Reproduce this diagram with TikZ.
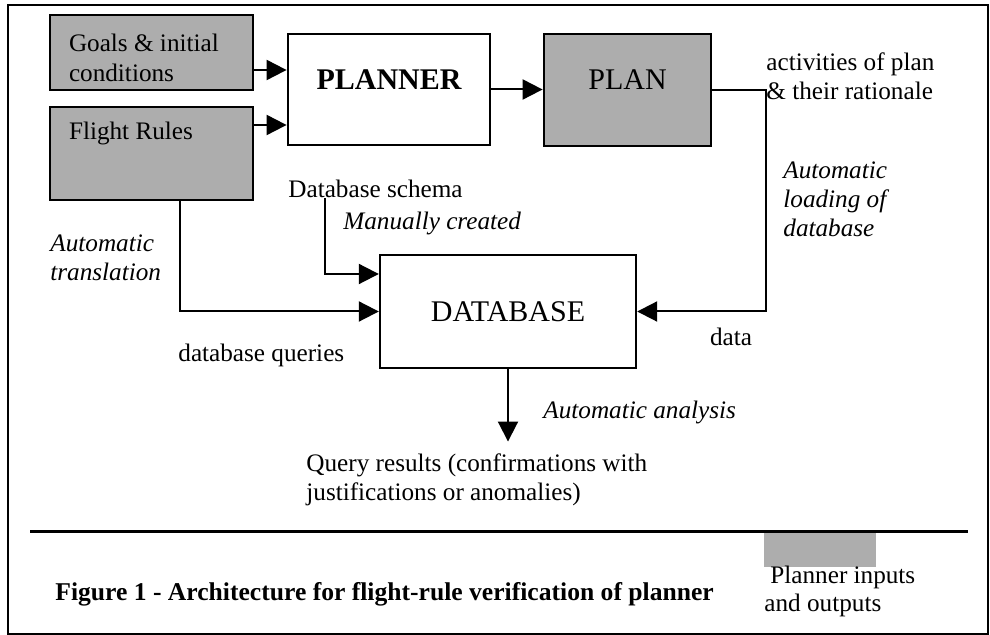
\documentclass[tikz,border=0pt]{standalone}
\usepackage{fontspec}
\setmainfont{Liberation Serif}
\usepackage{tikz}
\usetikzlibrary{arrows.meta, positioning, calc}
\definecolor{shade}{HTML}{ADADAD}

\begin{document}
\begin{tikzpicture}[
    x=0.5pt, y=-0.5pt,
    block/.style={draw, line width=1.4pt, fill=#1, inner sep=0pt},
    block/.default=white,
    txt/.style={font=\fontsize{12.6}{14.5}\selectfont, inner sep=0pt, align=left},
    itxt/.style={txt, font=\fontsize{12.6}{14.5}\selectfont\itshape},
    big/.style={font=\fontsize{15}{18}\selectfont, inner sep=0pt},
    conn/.style={->, line width=1pt},
    >={Triangle[length=10pt, width=10pt]},
]
    \useasboundingbox (0,0) rectangle (990,635);

    % Frame and rule
    \draw[line width=1pt] (8,5) rectangle (988,634);
    \draw[line width=1.5pt] (30,532) -- (968,532);

    % Planner inputs
    \node[block=shade, minimum width=101.5pt, minimum height=37.5pt] (goals) at (151.5,52.5) {};
    \node[txt, anchor=west, font=\fontsize{12.6}{15}\selectfont] (goalstext) at ($(goals.west)+(20,5)$) {Goals \& initial\\conditions};
    \node[block=shade, minimum width=101.5pt, minimum height=46.5pt] (rules) at (151.5,153.5) {};
    \node[txt, anchor=west] (rulestext) at ($(rules.north west)+(20,28)$) {Flight Rules};

    % Planner and its output
    \node[block, minimum width=101pt, minimum height=55.5pt] (planner) at (389,89.5) {};
    \node[big, font=\fontsize{15}{18}\selectfont\bfseries] (plannertext) at ($(planner.center)+(0,-9.5)$) {PLANNER};
    \node[block=shade, minimum width=83.5pt, minimum height=56pt] (plan) at (627.5,90) {};
    \node[big] (plantext) at ($(plan.center)+(0,-10)$) {PLAN};

    % Database
    \node[block, line width=1.2pt, minimum width=128pt, minimum height=56.5pt, big] (database) at (508,311.5) {DATABASE};

    % Labels
    \node[txt, anchor=west] (activities) at (766,76) {activities of plan\\\& their rationale};
    \node[itxt, anchor=west] (loading) at (783,199) {Automatic\\loading of\\database};
    \node[txt] (data) at (731,337) {data};
    \node[itxt, anchor=west] (translation) at (50,258) {Automatic\\translation};
    \node[txt, anchor=west] (schema) at (288,189) {Database schema};
    \node[itxt, anchor=west] (manual) at (343,223) {Manually created};
    \node[txt, anchor=west] (queries) at (178,355) {database queries};
    \node[itxt, anchor=west] (analysis) at (543,412) {Automatic analysis};
    \node[txt, anchor=west] (results) at (306,480) {Query results (confirmations with\\justifications or anomalies)};

    % Connectors
    \draw[conn] ($(goals.east)+(0,17.5)$) -- ($(planner.west |- goals.east)+(0,17.5)$);
    \draw[conn] ($(rules.east)+(0,-28.5)$) -- ($(planner.west |- rules.east)+(0,-28.5)$);
    \draw[conn] (planner.east) -- (planner.east -| plan.west);
    \draw[conn] (plan.east) -- ++(54,0) |- (database.east);
    \draw[conn] ($(rules.south)+(28.5,0)$) |- (database.west);
    \draw[conn] ($(schema.south west)+(37,0)$) |- ($(database.west)+(0,-37.5)$);
    \draw[conn] (database.south) -- ($(database.south |- results.north)+(0,-12)$);

    % Caption and legend
    \node[anchor=west, inner sep=0pt, font=\fontsize{12.8}{15}\selectfont\bfseries] (caption) at (55,594) {Figure 1 - Architecture for flight-rule verification of planner};
    \node[fill=shade, minimum width=56pt, minimum height=17pt, inner sep=0pt] (legend) at (820,550) {};
    \node[txt, anchor=west, font=\fontsize{12.6}{14}\selectfont] (legendtext) at (764,591) {\hspace{3pt}Planner inputs\\and outputs};
\end{tikzpicture}
\end{document}
